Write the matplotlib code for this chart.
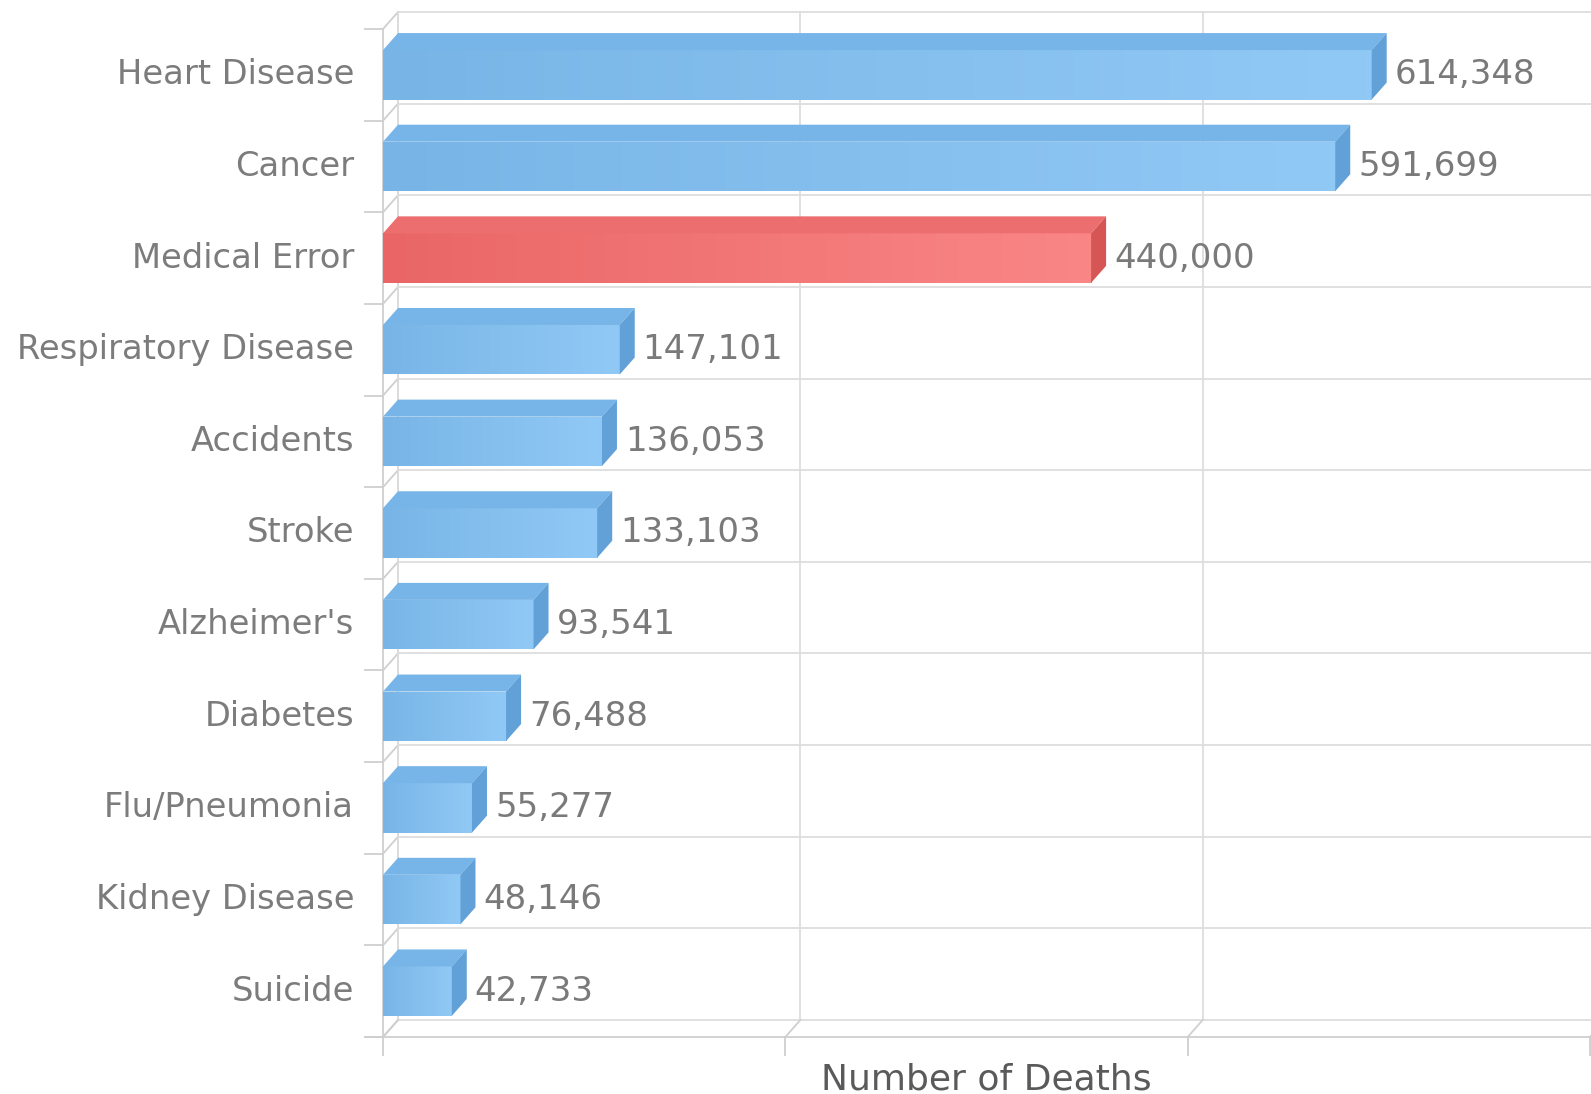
import matplotlib
matplotlib.use('Agg')
import matplotlib.pyplot as plt
import numpy as np
from matplotlib.patches import Polygon
from matplotlib.colors import LinearSegmentedColormap

# data
causes = ['Heart Disease', 'Cancer', 'Medical Error', 'Respiratory Disease',
          'Accidents', 'Stroke', "Alzheimer's", 'Diabetes', 'Flu/Pneumonia',
          'Kidney Disease', 'Suicide']
deaths = [614348, 591699, 440000, 147101, 136053, 133103, 93541, 76488,
          55277, 48146, 42733]
highlight = 'Medical Error'
x_ticks = [0, 250000, 500000, 750000]
x_max = 750000

W, H = 1591, 1094
fig = plt.figure(figsize=(W / 100, H / 100), dpi=100)
fig.patch.set_facecolor('white')

# front plane of the 3d box, in pixels
left, right, top, bottom = 383, 1590, 29, 1037
ax = fig.add_axes([left / W, 1 - bottom / H, (right - left) / W, (bottom - top) / H])
n = len(causes)
ax.set_xlim(0, x_max)
ax.set_ylim(n - 0.5, -0.5)

# depth offset (pixels -> data units)
dx_px, dy_px = 15, 17
ddx = dx_px * x_max / (right - left)
ddy = -dy_px * n / (bottom - top)
tick_x = 18 * x_max / (right - left)
tick_y = 18 * n / (bottom - top)

grid_c = '#dddddd'
axis_c = '#cfcfcf'
kw = dict(lw=1.3, clip_on=False, zorder=1)

# back wall: band lines, left wall diagonals, left ticks
for b in np.arange(-0.5, n + 0.5, 1.0):
    ax.plot([ddx, x_max + ddx], [b + ddy, b + ddy], color=grid_c, **kw)
    ax.plot([0, ddx], [b, b + ddy], color=axis_c, **kw)
    ax.plot([-tick_x, 0], [b, b], color=axis_c, **kw)
ax.plot([ddx, ddx], [-0.5 + ddy, n - 0.5 + ddy], color=axis_c, **kw)
ax.plot([0, 0], [-0.5, n - 0.5], color=axis_c, **kw)

# back vertical grid, floor diagonals, bottom ticks
for t in x_ticks:
    ax.plot([t + ddx, t + ddx], [-0.5 + ddy, n - 0.5 + ddy], color=grid_c, **kw)
    ax.plot([t, t + ddx], [n - 0.5, n - 0.5 + ddy], color=axis_c, **kw)
    ax.plot([t, t], [n - 0.5, n - 0.5 + tick_y], color=axis_c, **kw)
ax.plot([-tick_x, x_max], [n - 0.5, n - 0.5], color=axis_c, **kw)

# bars
h = 0.54
blue = dict(grad=['#78b5e6', '#91c9f6'], top='#77b5e8', side='#61a1d8')
red = dict(grad=['#ea6666', '#fa8686'], top='#ed6e6e', side='#d65656')
grad = np.linspace(0, 1, 256).reshape(1, -1)

bars = ax.barh(range(n), deaths, height=h, color='none', edgecolor='none', zorder=3)
for i, (name, v, bar) in enumerate(zip(causes, deaths, bars)):
    c = red if name == highlight else blue
    cmap = LinearSegmentedColormap.from_list('g', c['grad'])
    y0, y1 = i - h / 2, i + h / 2
    im = ax.imshow(grad, extent=[0, v, y1, y0], cmap=cmap, aspect='auto',
                   zorder=3, interpolation='bilinear')
    im.set_clip_path(bar)
    ax.add_patch(Polygon([(0, y0), (v, y0), (v + ddx, y0 + ddy), (ddx, y0 + ddy)],
                         closed=True, fc=c['top'], ec='none', zorder=3, clip_on=False))
    ax.add_patch(Polygon([(v, y0), (v + ddx, y0 + ddy), (v + ddx, y1 + ddy), (v, y1)],
                         closed=True, fc=c['side'], ec='none', zorder=3, clip_on=False))
    ax.annotate(f'{v:,}', (v, i), xytext=(dx_px + 8, 0), textcoords='offset pixels',
                va='center', ha='left', fontsize=24.5, color='#7a7a7a',
                annotation_clip=False)

ax.set_xlim(0, x_max)
ax.set_ylim(n - 0.5, -0.5)

ax.set_yticks(range(n), causes)
ax.tick_params(axis='y', length=0, pad=29 * 0.72, labelsize=24.3, labelcolor='#7c7c7c')
for lbl in ax.get_yticklabels():
    lbl.set_va('center')
ax.set_xticks([])
for s in ax.spines.values():
    s.set_visible(False)
ax.patch.set_alpha(0)

ax.set_xlabel('Number of Deaths', fontsize=26, color='#5a5a5a')
ax.xaxis.set_label_coords(0.5, -(1080 - bottom) / (bottom - top))
ax.xaxis.label.set_va('center')

fig.savefig('out.png', dpi=100)
